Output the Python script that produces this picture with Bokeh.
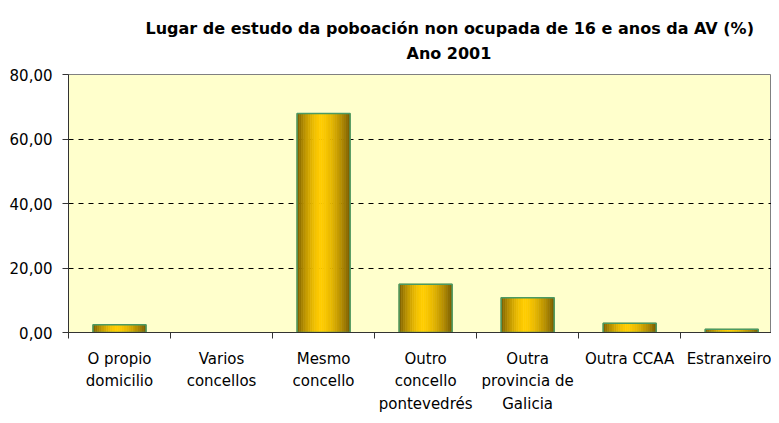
from bokeh.plotting import figure
from bokeh.models import (ColumnDataSource, FixedTicker, CustomJSTickFormatter, Title,
                          Range1d)
from bokeh.embed import file_html
from bokeh.resources import INLINE

categories = ["O propio\ndomicilio", "Varios\nconcellos", "Mesmo\nconcello",
              "Outro\nconcello\npontevedrés", "Outra\nprovincia de\nGalicia",
              "Outra CCAA", "Estranxeiro"]
values = [2.4, 0.0, 67.9, 15.0, 10.8, 2.9, 1.0]
y_ticks = [0, 20, 40, 60, 80]

FONT = "DejaVu Sans"
BAR_W = 0.52
N_STRIPES = 24
DARK = (122, 92, 0)
BRIGHT = (255, 204, 0)


def shade(t):
    c = 0.45
    d = abs(t - c) / (c if t < c else 1 - c)
    f = max(0.0, 1 - d ** 1.6)
    r, g, b = [int(round(a + (bb - a) * f)) for a, bb in zip(DARK, BRIGHT)]
    return "#%02x%02x%02x" % (r, g, b)


sx, stop, sw, sc = [], [], [], []
for i, v in enumerate(values):
    if v <= 0:
        continue
    for k in range(N_STRIPES):
        t = (k + 0.5) / N_STRIPES
        sx.append(i + 0.5 - BAR_W / 2 + t * BAR_W)
        stop.append(v)
        sw.append(BAR_W / N_STRIPES)
        sc.append(shade(t))
stripes = ColumnDataSource(dict(x=sx, top=stop, w=sw, c=sc))
bars_nz = ColumnDataSource(dict(x=[i + 0.5 for i, v in enumerate(values) if v > 0],
                                top=[v for v in values if v > 0]))

p = figure(width=771, height=415, output_backend="svg", toolbar_location=None,
           title=None, x_range=Range1d(0, 6.89), y_range=Range1d(0, 80),
           min_border_left=68, min_border_right=0, min_border_top=74,
           min_border_bottom=83)
p.background_fill_color = "#FFFFCC"
p.border_fill_color = "white"
p.outline_line_color = "#808080"

p.vbar(x="x", top="top", width="w", bottom=0, source=stripes, fill_color="c",
       line_color="c", line_width=0.6)
p.vbar(x="x", top="top", width=BAR_W, bottom=0, source=bars_nz, fill_color=None,
       line_color="#4a9a64", line_width=1.5)

# y axis
p.yaxis.ticker = FixedTicker(ticks=y_ticks)
p.yaxis.formatter = CustomJSTickFormatter(code="return tick.toFixed(2).replace('.', ',');")
p.yaxis.major_tick_out = 6
p.yaxis.major_tick_in = 0
p.yaxis.minor_tick_out = 0
p.yaxis.major_label_standoff = 10
p.yaxis.major_label_text_font = FONT
p.yaxis.major_label_text_font_size = "15px"
p.yaxis.major_label_text_color = "black"
p.yaxis.axis_line_color = "#333333"
p.yaxis.major_tick_line_color = "#333333"

# x axis: labels at centres, tick marks at category boundaries
centres = [i + 0.5 for i in range(len(categories))]
bounds = list(range(len(categories) + 1))
p.xaxis.ticker = FixedTicker(ticks=centres, minor_ticks=bounds)
p.xaxis.major_label_overrides = {c: lab for c, lab in zip(centres, categories)}
p.xaxis.major_tick_out = 0
p.xaxis.major_tick_in = 0
p.xaxis.minor_tick_out = 6
p.xaxis.minor_tick_in = 0
p.xaxis.minor_tick_line_color = "#333333"
p.xaxis.axis_line_color = "#333333"
p.xaxis.major_label_standoff = 11
p.xaxis.major_label_text_font = FONT
p.xaxis.major_label_text_font_size = "15px"
p.xaxis.major_label_text_line_height = 1.26
p.xaxis.major_label_text_color = "black"

p.xgrid.grid_line_color = None
p.ygrid.grid_line_color = "black"
p.ygrid.grid_line_dash = "5 5"
p.ygrid.grid_line_width = 1

p.add_layout(Title(text="Ano 2001", align="left", offset=338, standoff=8,
                   padding=dict(left=0, right=0, top=0, bottom=8),
                   text_font=FONT, text_font_size="16px", text_font_style="bold",
                   text_color="black"), "above")
p.add_layout(Title(text="Lugar de estudo da poboación non ocupada de 16 e anos da AV (%)",
                   align="left", offset=77, standoff=0, text_font=FONT,
                   text_font_size="16px", text_font_style="bold", text_color="black"),
             "above")

open("out.html", "w").write(file_html(p, INLINE))
